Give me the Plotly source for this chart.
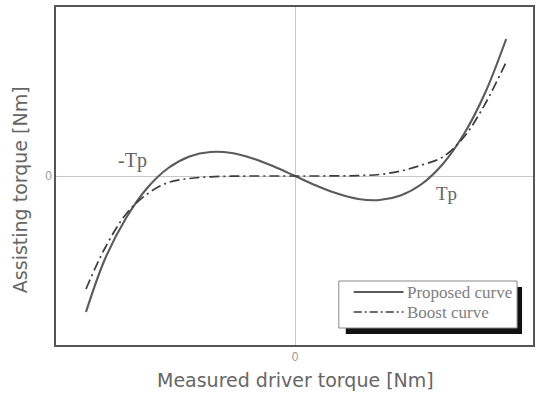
import plotly.graph_objects as go

# Measured driver torque (normalised) and the two assist characteristics
torque_in = [-0.99, -0.9, -0.8, -0.7, -0.6, -0.5, -0.4, -0.3, -0.2, -0.1, 0.0,
             0.1, 0.2, 0.3, 0.4, 0.5, 0.6, 0.7, 0.8, 0.9, 1.0]
proposed = [-1.36, -0.83, -0.42, -0.12, 0.08, 0.195, 0.24, 0.23, 0.176, 0.095, 0.0,
            -0.095, -0.176, -0.23, -0.24, -0.195, -0.08, 0.12, 0.42, 0.83, 1.37]
boost = [-1.13, -0.72, -0.38, -0.18, -0.065, -0.025, -0.008, -0.002, 0.0, 0.0, 0.0,
         0.0, 0.001, 0.004, 0.015, 0.05, 0.11, 0.19, 0.39, 0.72, 1.14]

tick_vals = [0]
tick_text = ["0"]

fig = go.Figure()
fig.add_trace(go.Scatter(x=torque_in, y=proposed, mode="lines", name="Proposed curve",
                         line=dict(color="#5a5a5a", width=2.1, shape="spline", smoothing=1.0)))
fig.add_trace(go.Scatter(x=torque_in, y=boost, mode="lines", name="Boost curve",
                         line=dict(color="#3c3c3c", width=1.7, dash="10px,4px,2px,4px",
                                   shape="spline", smoothing=1.0)))

W, H = 536, 395
L, R, T, B = 56, 1, 7, 50
pw, ph = W - L - R, H - T - B


def px(x):
    return (x - L) / pw


def py(y):
    return (H - B - y) / ph


shapes = [
    # legend drop shadow and box
    dict(type="rect", xref="paper", yref="paper", x0=px(347), x1=px(524), y0=py(334), y1=py(287),
         fillcolor="#111111", line=dict(width=0), layer="above"),
    dict(type="rect", xref="paper", yref="paper", x0=px(340), x1=px(519), y0=py(328), y1=py(281),
         fillcolor="white", line=dict(color="#888888", width=1), layer="above"),
    dict(type="line", xref="paper", yref="paper", x0=px(355), x1=px(405), y0=py(292), y1=py(292),
         line=dict(color="#5a5a5a", width=2), layer="above"),
    dict(type="line", xref="paper", yref="paper", x0=px(355), x1=px(405), y0=py(312), y1=py(312),
         line=dict(color="#3c3c3c", width=1.7, dash="8px,3px,2px,3px"), layer="above"),
]

annotations = [
    dict(x=-0.77, y=0.16, text="-Tp", showarrow=False,
         font=dict(family="Liberation Serif", size=20, color="#666666")),
    dict(x=0.717, y=-0.17, text="Tp", showarrow=False,
         font=dict(family="Liberation Serif", size=19, color="#666666")),
    dict(xref="paper", yref="paper", x=px(406), y=py(292), xanchor="left", yanchor="middle",
         text="Proposed curve", showarrow=False,
         font=dict(family="Liberation Serif", size=17, color="#808080")),
    dict(xref="paper", yref="paper", x=px(406), y=py(312), xanchor="left", yanchor="middle",
         text="Boost curve", showarrow=False,
         font=dict(family="Liberation Serif", size=17, color="#808080")),
    # axis titles
    dict(xref="paper", yref="paper", x=px(297), y=py(380), xanchor="center", yanchor="middle",
         text="Measured driver torque [Nm]", showarrow=False,
         font=dict(family="DejaVu Sans", size=19, color="#666666")),
    dict(xref="paper", yref="paper", x=px(20), y=py(190), xanchor="center", yanchor="middle",
         text="Assisting torque [Nm]", showarrow=False, textangle=-90,
         font=dict(family="DejaVu Sans", size=19, color="#666666")),
]

axis_common = dict(showgrid=False, zeroline=True, zerolinecolor="#c8c8c8", zerolinewidth=1,
                   showline=True, linecolor="#555555", linewidth=1.5, mirror=True,
                   tickvals=tick_vals, ticktext=tick_text, ticks="",
                   tickfont=dict(family="Liberation Sans", size=12, color="#999999"))

fig.update_layout(
    width=W, height=H,
    margin=dict(l=L, r=R, t=T, b=B),
    paper_bgcolor="white", plot_bgcolor="white",
    showlegend=False,
    xaxis=dict(range=[-1.132, 1.127], **axis_common),
    yaxis=dict(range=[-1.69, 1.69], **axis_common),
    shapes=shapes,
    annotations=annotations,
)

fig.write_html("out.html")
